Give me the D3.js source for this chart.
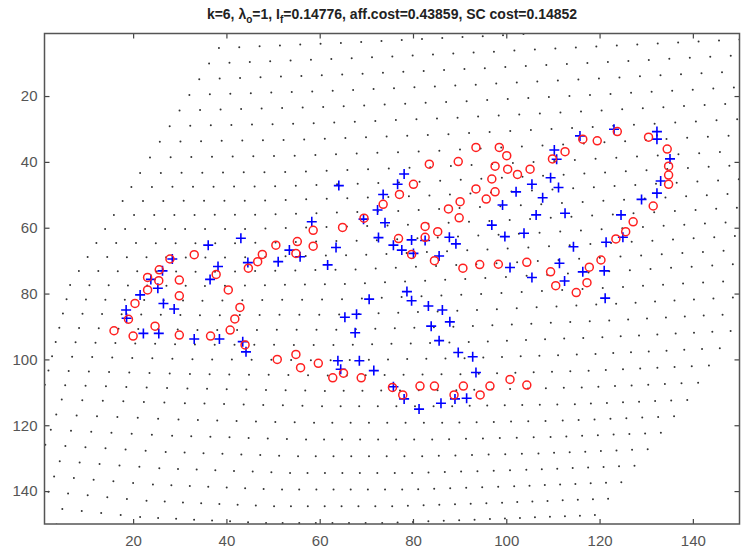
<!DOCTYPE html>
<html>
<head>
<meta charset="utf-8">
<script src="https://cdn.jsdelivr.net/npm/d3@7"></script>
<style>
  body { margin: 0; background: #fff; }
  text { font-family: "Liberation Sans", Arial, Helvetica, sans-serif; }
</style>
</head>
<body>
<script>
// blue '+' points (warped model shape)
var plusX = [36.1,43.1,28.4,38.2,36.5,44.6,26.3,23.8,25.3,21.5,26.5,28.8,18.5,18.6,22.2,25.5,33.1,38.5,43.5,44.2,
  78.1,64.1,76.7,73.6,72.4,69.4,58.3,74.0,72.6,79.7,82.6,87.8,89.2,53.5,55.8,63.5,75.8,77.6,80.1,85.6,
  51.1,61.7,70.6,78.7,79.7,83.3,86.3,65.4,67.9,83.9,87.9,67.6,85.6,
  115.8,123.1,132.3,132.3,135.1,133.1,132.3,129.0,110.3,110.8,109.5,111.2,105.5,102.1,107.8,99.2,106.4,112.6,
  96.9,99.7,103.8,124.6,125.0,121.4,114.4,100.8,105.5,111.4,112.5,116.4,121.0,121.2,
  63.9,64.5,68.5,71.6,89.7,92.8,93.5,75.8,78.1,81.3,86.0,89.0,91.5];
var plusY = [65.3,63.2,69.5,71.8,75.7,70.6,73.1,75.7,78.4,80.4,83.0,84.7,85.0,87.5,92.1,92.1,93.8,93.8,94.6,97.7,
  43.7,47.2,46.8,49.9,54.6,57.4,58.2,58.5,63.0,63.7,63.9,62.9,64.9,66.8,68.8,66.0,65.3,66.8,67.8,68.6,
  70.3,71.3,81.7,79.4,82.2,83.8,85.0,87.2,86.3,89.9,88.6,91.9,94.3,
  32.1,30.1,30.8,33.1,39.1,45.8,49.5,51.4,36.4,39.2,44.8,47.8,46.8,49.1,50.9,53.1,56.1,55.6,
  59.2,62.7,61.7,56.1,62.9,64.4,65.8,72.1,75.1,70.8,76.2,73.4,73.1,81.4,
  100.4,103.0,100.4,103.4,97.9,99.2,104.0,108.3,112.0,115.1,113.3,112.0,111.8];

// red 'o' points (target shape)
var circX = [33.1,27.9,37.8,44.7,25.6,23.1,25.5,29.9,23.1,40.4,29.9,20.4,42.9,41.8,19.0,24.7,40.8,15.9,20.0,29.9,36.6,44.0,
  83.5,89.7,80.1,77.1,93.5,90.1,87.6,73.6,89.9,69.5,64.9,58.6,82.6,85.3,76.9,82.6,50.6,55.2,58.6,54.9,79.7,84.6,90.7,94.3,47.7,46.7,
  93.5,98.5,100.1,97.6,100.3,102.4,105.1,96.9,97.6,95.7,116.4,119.5,123.8,130.5,134.5,134.8,134.8,134.8,131.5,112.6,109.9,
  127.2,125.6,123.5,98.3,104.4,109.5,110.6,117.8,120.3,117.3,115.0,
  50.9,54.9,55.9,59.7,65.1,62.8,68.9,75.6,77.8,81.5,84.6,88.8,90.8,94.4,96.5,100.8,104.4];
var circY = [68.2,69.5,74.2,72.3,72.8,75.1,76.1,75.9,78.9,78.9,80.7,83.0,84.2,87.7,87.8,89.9,91.1,91.3,92.9,92.6,92.9,95.6,
  40.7,39.9,46.8,49.9,48.2,52.1,54.3,52.9,57.0,57.1,59.9,60.8,59.6,61.2,63.3,62.9,65.3,64.2,65.6,67.8,68.1,70.0,72.3,71.2,68.1,70.3,
  35.6,35.6,38.1,41.3,42.2,43.8,42.2,45.2,49.1,51.3,33.1,33.6,30.8,32.5,36.1,41.3,44.0,46.8,53.4,36.9,39.1,
  58.2,61.2,63.4,71.1,70.5,73.4,77.6,72.0,69.8,76.7,79.7,
  100.0,98.5,102.5,101.2,104.2,105.6,105.6,108.5,110.8,108.1,108.1,110.8,108.1,110.8,108.1,106.1,107.8];

var xTicks = [20, 40, 60, 80, 100, 120, 140];
var yTicks = [20, 40, 60, 80, 100, 120, 140];

// warped 36x36 coordinate grid: positions of some grid nodes
var gridRows = d3.range(-3, 33);
var gridCols = d3.range(0, 36);
var ctrlRows = [0, 8, 16, 24, 31];
var ctrlCols = [0, 7, 14, 21, 28, 35];
var ctrlX = [
  [38.4, 68.9, 99.3, 130.0, 160.6, 191.3],
  [21.5, 52.6, 83.7, 114.7, 145.8, 176.9],
  [6.5, 35.4, 65.4, 95.5, 126.5, 157.4],
  [0.3, 31.1, 60.5, 88.4, 114.7, 138.8],
  [-7.7, 21.5, 48.5, 73.4, 96.5, 119.0]];
var ctrlY = [
  [5.4, 3.6, 1.5, -0.7, -2.8, -4.9],
  [43.4, 43.1, 41.6, 39.4, 37.0, 34.6],
  [77.4, 77.7, 77.1, 75.3, 72.9, 70.4],
  [112.0, 113.3, 114.2, 114.2, 113.6, 112.3],
  [143.6, 147.9, 149.7, 149.7, 148.5, 147.3]];

var W = 743, H = 560;
var left = 44.5, top_ = 33.5, right = 739.5, bottom = 524;

var svg = d3.select("body").append("svg")
    .attr("width", W)
    .attr("height", H);

var x = d3.scaleLinear().domain([1, 150]).range([left, right]);
var y = d3.scaleLinear().domain([1, 150]).range([top_, bottom]);

svg.append("clipPath").attr("id", "plotclip")
  .append("rect")
    .attr("x", left).attr("y", top_)
    .attr("width", right - left).attr("height", bottom - top_);

// grid nodes, row by row
var dots = [];
gridRows.forEach(function(j) {
    var xs = ctrlCols.map(function(c, k) {
        return d3.scaleLinear().domain(ctrlRows).range(ctrlX.map(function(r) { return r[k]; }))(j);
    });
    var ys = ctrlCols.map(function(c, k) {
        return d3.scaleLinear().domain(ctrlRows).range(ctrlY.map(function(r) { return r[k]; }))(j);
    });
    var rowX = d3.scaleLinear().domain(ctrlCols).range(xs);
    var rowY = d3.scaleLinear().domain(ctrlCols).range(ys);
    gridCols.forEach(function(c) { dots.push([rowX(c), rowY(c)]); });
});

var plot = svg.append("g").attr("clip-path", "url(#plotclip)");

plot.selectAll("circle.dot")
    .data(dots)
    .enter()
    .append("circle")
    .attr("class", "dot")
    .attr("cx", function(d) { return x(d[0]); })
    .attr("cy", function(d) { return y(d[1]); })
    .attr("r", 1)
    .attr("fill", "#333");

plot.selectAll("path.plus")
    .data(plusX)
    .enter()
    .append("path")
    .attr("class", "plus")
    .attr("d", function(d, i) {
        var px = x(d), py = y(plusY[i]);
        return "M" + (px - 5) + "," + py + "H" + (px + 5) + "M" + px + "," + (py - 5) + "V" + (py + 5);
    })
    .attr("stroke", "#0000ff")
    .attr("stroke-width", 1.6)
    .attr("fill", "none");

plot.selectAll("circle.ring")
    .data(circX)
    .enter()
    .append("circle")
    .attr("class", "ring")
    .attr("cx", function(d) { return x(d); })
    .attr("cy", function(d, i) { return y(circY[i]); })
    .attr("r", 4)
    .attr("stroke", "#ff2020")
    .attr("stroke-width", 1.5)
    .attr("fill", "none");

// axes, matlab style: ticks inside on all four sides
function styleAxis(g) {
    g.select(".domain").remove();
    g.selectAll(".tick line").attr("stroke", "#444").attr("stroke-width", 1.2);
    g.selectAll(".tick text").attr("fill", "#555").style("font-size", "15px");
}

svg.append("g")
    .attr("transform", "translate(0," + bottom + ")")
    .call(d3.axisBottom(x).tickValues(xTicks).tickSize(-5).tickPadding(11))
    .call(styleAxis);
svg.append("g")
    .attr("transform", "translate(0," + top_ + ")")
    .call(d3.axisTop(x).tickValues(xTicks).tickSize(-5).tickFormat(""))
    .call(styleAxis);
svg.append("g")
    .attr("transform", "translate(" + left + ",0)")
    .call(d3.axisLeft(y).tickValues(yTicks).tickSize(-5).tickPadding(7))
    .call(styleAxis);
svg.append("g")
    .attr("transform", "translate(" + right + ",0)")
    .call(d3.axisRight(y).tickValues(yTicks).tickSize(-5).tickFormat(""))
    .call(styleAxis);

svg.append("rect")
    .attr("x", left).attr("y", top_)
    .attr("width", right - left).attr("height", bottom - top_)
    .attr("fill", "none")
    .attr("stroke", "#555")
    .attr("stroke-width", 1.5);

var title = svg.append("text")
    .attr("x", (left + right) / 2)
    .attr("y", 19)
    .attr("text-anchor", "middle")
    .attr("font-weight", "bold")
    .attr("font-size", "14px")
    .attr("fill", "#222");
title.append("tspan").text("k=6, \u03bb");
title.append("tspan").attr("dy", 4).attr("font-size", "10px").text("o");
title.append("tspan").attr("dy", -4).text("=1, I");
title.append("tspan").attr("dy", 4).attr("font-size", "10px").text("f");
title.append("tspan").attr("dy", -4).text("=0.14776, aff.cost=0.43859, SC cost=0.14852");
</script>
</body>
</html>
